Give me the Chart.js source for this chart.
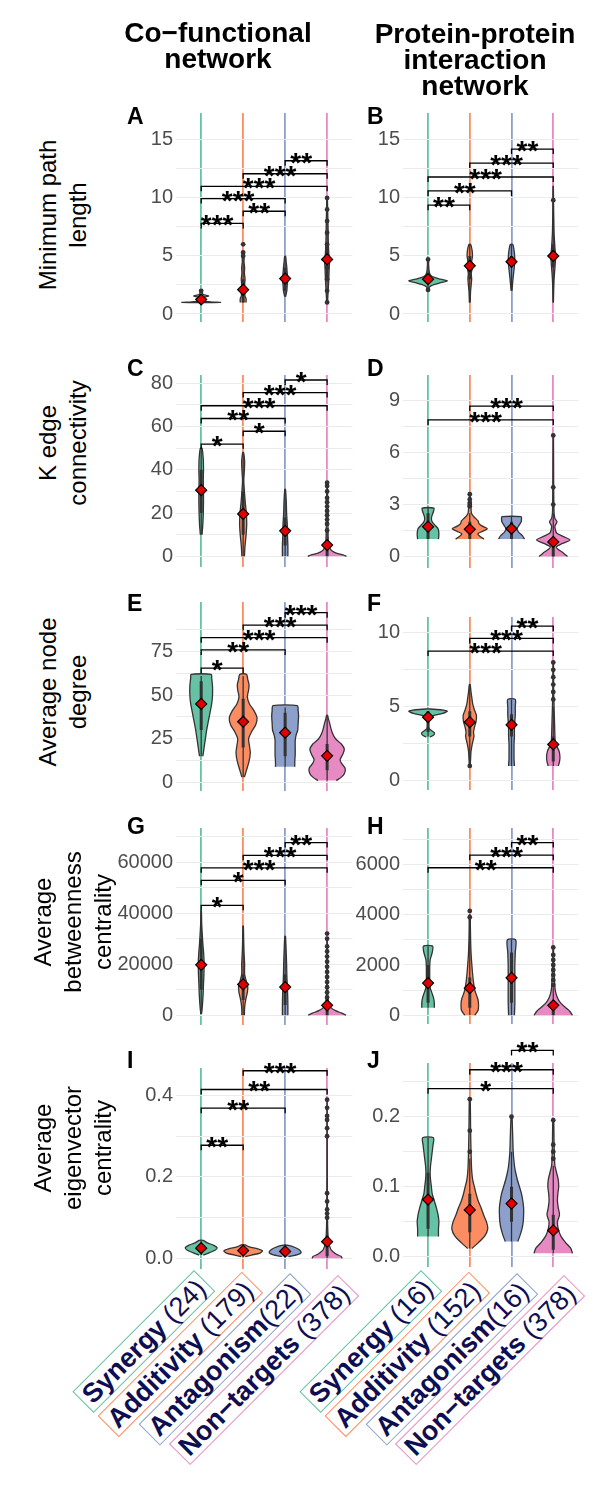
<!DOCTYPE html>
<html lang="en">
<head>
<meta charset="UTF-8">
<script src="https://cdn.jsdelivr.net/npm/chart.js"></script>
<title>Network metrics by interaction type</title>
<style>
  body { margin: 0; background: #fff; font-family: "Liberation Sans", Arial, sans-serif; }
  #page { position: relative; width: 614px; height: 1495px; overflow: hidden; }
  #page canvas { position: absolute; }
  .hdr { position: absolute; width: 260px; font-weight: bold; font-size: 28px; line-height: 26px; text-align: center; color: #000; }
  .tag { position: absolute; font-weight: bold; font-size: 23px; line-height: 23px; color: #000; }
  .ylab { position: absolute; font-size: 24px; line-height: 30px; text-align: center; white-space: nowrap;
          transform: translate(-50%, -50%) rotate(-90deg); color: #000; }
  .xlab { position: absolute; font-size: 27px; line-height: 28px; color: #0e0e52; background: #fff;
          border: 1px solid; padding: 0 4px; white-space: nowrap; transform-origin: 100% 0; transform: rotate(-45deg); }
</style>
</head>
<body>
<div id="page"></div>
<script>
// ---- data ----
const groups = ['Synergy', 'Additivity', 'Antagonism', 'Non\u2212targets'];
const countsCof = [' (24)', ' (179)', '(22)', ' (378)'];
const countsPpi = [' (16)', ' (152)', '(16)', ' (378)'];
const rowTitles = [['Minimum path', 'length'], ['K edge', 'connectivity'], ['Average node', 'degree'],
                   ['Average', 'betweenness', 'centrality'], ['Average', 'eigenvector', 'centrality']];

// violin outlines: [y, half width in category units]
const violinA = [
  [[0.98,0.04],[1.0,0.46],[1.05,0.22],[1.12,0.05],[1.4,0.04],[1.55,0.18],[1.7,0.04],[2.0,0.02]],
  [[1.0,0.07],[1.3,0.07],[1.6,0.04],[2.0,0.05],[2.5,0.035],[3.0,0.045],[3.5,0.03],[4.0,0.035],[4.5,0.02],[5.0,0.025],[5.3,0.01]],
  [[1.5,0.01],[2.0,0.04],[2.5,0.05],[3.0,0.065],[3.5,0.05],[4.0,0.04],[4.5,0.025],[5.0,0.01]],
  [[1.0,0.01],[2.0,0.025],[3.0,0.04],[4.0,0.05],[4.6,0.06],[5.0,0.045],[6.0,0.03],[7.0,0.025],[8.0,0.02],[9.0,0.012],[10.0,0.006]]
];
const violinB = [
  [[2.0,0.02],[2.3,0.03],[2.45,0.08],[2.65,0.25],[2.85,0.46],[3.0,0.3],[3.15,0.15],[3.35,0.06],[3.6,0.03],[4.2,0.015],[4.7,0.01]],
  [[1.0,0.01],[2.0,0.02],[3.0,0.045],[3.5,0.035],[4.0,0.06],[4.5,0.045],[5.0,0.065],[5.5,0.055],[6.0,0.02]],
  [[2.0,0.01],[3.0,0.035],[3.5,0.05],[4.0,0.065],[4.5,0.08],[5.0,0.075],[5.5,0.06],[6.0,0.03]],
  [[1.0,0.004],[2.0,0.01],[3.0,0.02],[4.0,0.04],[4.7,0.055],[5.0,0.06],[5.5,0.045],[6.0,0.035],[7.0,0.02],[8.0,0.014],[9.0,0.009],[10.0,0.006],[11.0,0.002]]
];
const violinC = [
  [[10,0.02],[15,0.04],[20,0.05],[25,0.055],[30,0.055],[35,0.05],[40,0.055],[45,0.05],[50,0.02]],
  [[0,0.03],[5,0.045],[10,0.07],[15,0.085],[20,0.075],[25,0.05],[30,0.03],[35,0.015],[40,0.03],[44,0.035],[48,0.01]],
  [[0,0.065],[5,0.065],[10,0.055],[15,0.05],[20,0.035],[25,0.028],[31,0.008]],
  [[0,0.46],[0.7,0.38],[1.5,0.22],[2.5,0.12],[4,0.06],[6,0.035],[9,0.025],[14,0.02],[20,0.015],[27,0.012],[34,0.005]]
];
const violinD = [
  [[1.0,0.25],[1.3,0.26],[1.6,0.24],[1.8,0.17],[2.0,0.1],[2.2,0.08],[2.4,0.1],[2.6,0.13],[2.8,0.14]],
  [[1.0,0.34],[1.15,0.25],[1.3,0.19],[1.45,0.3],[1.6,0.42],[1.75,0.3],[1.9,0.22],[2.05,0.2],[2.2,0.14],[2.35,0.08],[2.5,0.04],[2.8,0.03],[3.0,0.04],[3.2,0.02],[3.5,0.01]],
  [[1.0,0.31],[1.2,0.26],[1.4,0.17],[1.6,0.13],[1.8,0.18],[2.0,0.23],[2.2,0.24],[2.3,0.23]],
  [[0,0.34],[0.2,0.24],[0.4,0.12],[0.55,0.07],[0.75,0.22],[0.95,0.4],[1.15,0.24],[1.35,0.08],[1.55,0.05],[1.75,0.04],[2.0,0.09],[2.2,0.04],[2.5,0.02],[3,0.015],[4,0.01],[7,0.005]]
];
const violinE = [
  [[15,0.04],[20,0.07],[25,0.1],[30,0.13],[35,0.17],[40,0.21],[45,0.25],[50,0.27],[55,0.27],[60,0.25],[62,0.24]],
  [[3,0.03],[7,0.08],[12,0.14],[17,0.17],[21,0.15],[25,0.13],[29,0.2],[33,0.3],[37,0.33],[41,0.26],[45,0.15],[49,0.1],[53,0.13],[56,0.14],[59,0.11],[62,0.08]],
  [[9,0.23],[12,0.23],[16,0.24],[20,0.24],[24,0.24],[27,0.26],[30,0.3],[34,0.31],[38,0.32],[41,0.31],[44,0.29]],
  [[1,0.22],[3,0.34],[5,0.41],[8,0.43],[11,0.34],[13,0.31],[16,0.37],[19,0.41],[22,0.34],[25,0.2],[28,0.13],[31,0.09],[34,0.06],[36.5,0.03],[38.5,0.01]]
];
const violinF = [
  [[2.95,0.05],[3.1,0.14],[3.25,0.15],[3.4,0.08],[3.55,0.02],[3.9,0.01],[4.2,0.03],[4.4,0.12],[4.55,0.35],[4.7,0.46],[4.8,0.3],[4.85,0.05]],
  [[1,0.01],[1.5,0.02],[2,0.03],[2.5,0.06],[3,0.1],[3.3,0.09],[3.6,0.11],[4,0.15],[4.4,0.16],[4.8,0.11],[5.2,0.07],[5.6,0.05],[6,0.03],[6.5,0.01]],
  [[1,0.07],[1.5,0.06],[2,0.06],[2.5,0.06],[3,0.07],[3.5,0.07],[4,0.08],[4.5,0.09],[5,0.09],[5.5,0.09]],
  [[1,0.12],[1.3,0.15],[1.6,0.16],[2,0.14],[2.3,0.09],[2.6,0.05],[3,0.04],[3.5,0.035],[4,0.03],[5,0.02],[6,0.01],[8,0.005]]
];
const violinG = [
  [[500,0.008],[3000,0.025],[8000,0.045],[12000,0.055],[16000,0.065],[20000,0.07],[24000,0.06],[28000,0.04],[32000,0.025],[36000,0.012],[41000,0.005]],
  [[0,0.03],[3000,0.035],[6000,0.06],[9000,0.1],[11000,0.11],[13000,0.08],[16000,0.035],[20000,0.035],[25000,0.02],[30000,0.012],[35000,0.005]],
  [[0,0.065],[4000,0.065],[8000,0.06],[12000,0.05],[16000,0.04],[20000,0.035],[25000,0.025],[31000,0.008]],
  [[0,0.45],[800,0.35],[1800,0.2],[3000,0.09],[4500,0.04],[7000,0.02],[12000,0.01],[20000,0.008],[30000,0.004]]
];
const violinH = [
  [[300,0.15],[500,0.15],[700,0.13],[900,0.09],[1100,0.05],[1300,0.04],[1600,0.04],[1900,0.04],[2200,0.05],[2500,0.1],[2750,0.11]],
  [[0,0.12],[200,0.2],[400,0.21],[600,0.2],[800,0.16],[1000,0.12],[1300,0.09],[1600,0.07],[2000,0.05],[2500,0.03],[3000,0.02],[3500,0.015],[4000,0.01]],
  [[0,0.07],[500,0.08],[1000,0.08],[1500,0.08],[2000,0.08],[2500,0.09],[3000,0.1]],
  [[0,0.46],[150,0.4],[300,0.3],[500,0.17],[700,0.1],[900,0.06],[1100,0.04],[1400,0.03],[1800,0.02],[2200,0.01],[2700,0.005]]
];
const violinI = [
  [[0.008,0.05],[0.014,0.2],[0.02,0.33],[0.026,0.38],[0.032,0.3],[0.038,0.15],[0.044,0.05]],
  [[0.004,0.05],[0.008,0.2],[0.013,0.4],[0.018,0.46],[0.023,0.35],[0.028,0.15],[0.033,0.04]],
  [[0.004,0.08],[0.009,0.3],[0.014,0.38],[0.02,0.35],[0.026,0.25],[0.032,0.08]],
  [[0,0.36],[0.005,0.33],[0.01,0.22],[0.02,0.1],[0.03,0.06],[0.04,0.04],[0.06,0.02],[0.1,0.01],[0.2,0.005],[0.39,0.003]]
];
const violinJ = [
  [[0.029,0.25],[0.04,0.25],[0.05,0.26],[0.06,0.24],[0.07,0.2],[0.08,0.15],[0.09,0.1],[0.1,0.08],[0.11,0.06],[0.12,0.05],[0.13,0.06],[0.14,0.08],[0.15,0.1],[0.16,0.12],[0.17,0.13]],
  [[0.012,0.05],[0.02,0.2],[0.03,0.36],[0.04,0.43],[0.05,0.4],[0.06,0.33],[0.07,0.27],[0.08,0.2],[0.09,0.15],[0.1,0.11],[0.11,0.07],[0.12,0.05],[0.13,0.04],[0.15,0.03],[0.18,0.02],[0.225,0.01]],
  [[0.022,0.15],[0.03,0.2],[0.04,0.25],[0.05,0.28],[0.06,0.29],[0.07,0.29],[0.08,0.27],[0.09,0.24],[0.1,0.19],[0.11,0.14],[0.12,0.1],[0.13,0.07],[0.15,0.04],[0.17,0.03],[0.2,0.01]],
  [[0.005,0.46],[0.012,0.42],[0.02,0.3],[0.03,0.18],[0.04,0.12],[0.05,0.1],[0.06,0.15],[0.07,0.12],[0.08,0.1],[0.09,0.11],[0.1,0.13],[0.11,0.12],[0.12,0.08],[0.13,0.04],[0.14,0.03],[0.16,0.02],[0.195,0.01]]
];

// boxplots: [lower whisker, q1, q3, upper whisker]
const boxA = [[1,1,1,1.5],[1,1,3,5],[1.5,2,4,5],[1,3,6,10]];
const boxB = [[2.1,2.6,3.2,4.7],[1,3,5,6],[2,4,5,6],[1,4,6,11]];
const boxC = [[10,20,40,50],[0,10,30,48],[0,5,18,31],[0,0,6,12]];
const boxD = [[1,1,2.5,2.8],[1,1,2,2.5],[1,1,2,2.3],[0,0,1,2.5]];
const boxE = [[15,30,58,61],[3,20,48,61],[9,15,40,43],[1,7,22,38]];
const boxF = [[3,3.3,4.7,4.7],[1,3,4.7,6.5],[1,3,4.5,5.5],[1,1.3,3,5]];
const boxG = [[500,10000,30000,41000],[0,6000,16000,35000],[0,4000,16000,31000],[0,0,3000,7000]];
const boxH = [[300,500,2000,2750],[0,300,1500,3800],[0,500,2500,3000],[0,0,500,1100]];
const boxI = [[0.008,0.018,0.032,0.044],[0.004,0.01,0.025,0.032],[0.004,0.01,0.023,0.032],[0,0.005,0.04,0.09]];
const boxJ = [[0.029,0.04,0.12,0.17],[0.012,0.035,0.09,0.14],[0.022,0.05,0.1,0.15],[0.005,0.01,0.06,0.13]];

// outlying points
const outA = [[2],[5,5.3,6],[],[1,2,3,4,5,6,7,8,9,10]];
const outB = [[2.08,4.7],[],[],[9.8]];
const outC = [[],[],[],[12,15,17,19,21,23,25,27,30,32.5,34]];
const outD = [[],[2.9,3.1,3.3,3.6],[],[3,4,7]];
const outE = [[],[],[],[]];
const outF = [[],[1],[],[5.5,6,6.5,7,7.5,8]];
const outG = [[],[],[],[7000,9000,11000,13000,15000,17000,19000,21000,23000,25000,27000,30000,32000]];
const outH = [[],[3900,4150],[],[1200,1400,1600,1800,2000,2200,2400,2700]];
const outI = [[],[],[],[0.1,0.11,0.12,0.14,0.16,0.3,0.32,0.34,0.35,0.37,0.39]];
const outJ = [[],[0.15,0.18,0.225],[0.2],[0.14,0.15,0.16,0.195]];

// group means (red diamonds)
const meanA = [1.25, 2.1, 3.05, 4.7];
const meanB = [3.0, 4.15, 4.5, 5.0];
const meanC = [30.6, 19.6, 11.8, 5.2];
const meanD = [1.72, 1.57, 1.6, 0.84];
const meanE = [45, 34.8, 28.5, 15.2];
const meanF = [4.3, 3.96, 3.78, 2.46];
const meanG = [19750, 12080, 11050, 3900];
const meanH = [1280, 1080, 1490, 395];
const meanI = [0.025, 0.019, 0.017, 0.041];
const meanJ = [0.0817, 0.067, 0.076, 0.0377];

// significance brackets: [group a, group b, y, label]
const sigA = [[1,2,7.8,'***'],[2,3,8.85,'**'],[1,3,9.94,'***'],[1,4,11.0,'***'],[2,4,12.08,'***'],[3,4,13.2,'**']];
const sigB = [[1,2,9.37,'**'],[1,3,10.6,'**'],[1,4,11.8,'***'],[2,4,13.0,'***'],[3,4,14.2,'**']];
const sigC = [[1,2,51.9,'*'],[2,3,57.8,'*'],[1,3,63.7,'**'],[1,4,69.6,'***'],[2,4,75.7,'***'],[3,4,81.5,'*']];
const sigD = [[1,4,7.9,'***'],[2,4,8.7,'***']];
const sigE = [[1,2,65.5,'*'],[1,3,76,'**'],[1,4,83,'***'],[2,4,90.2,'***'],[3,4,97.4,'***']];
const sigF = [[1,4,8.77,'***'],[2,4,9.62,'***'],[3,4,10.45,'**']];
const sigG = [[1,2,43100,'*'],[1,3,52900,'*'],[1,4,57800,'***'],[2,4,62700,'***'],[3,4,67700,'**']];
const sigH = [[1,4,5870,'**'],[2,4,6370,'***'],[3,4,6870,'**']];
const sigI = [[1,2,0.278,'**'],[1,3,0.369,'**'],[1,4,0.415,'**'],[2,4,0.461,'***']];
const sigJ = [[1,4,0.240,'*'],[2,4,0.267,'***'],[3,4,0.2945,'**']];

// y tick labels
const ticksA = [0, 5, 10, 15];
const ticksB = [0, 5, 10, 15];
const ticksC = [0, 20, 40, 60, 80];
const ticksD = [0, 3, 6, 9];
const ticksE = [0, 25, 50, 75];
const ticksF = [0, 5, 10];
const ticksG = [0, 20000, 40000, 60000];
const ticksH = [0, 2000, 4000, 6000];
const ticksI = [0, 0.2, 0.4];
const ticksJ = [0, 0.1, 0.2];

// ---- layout ----
const fills = ['#66C2A5', '#FC8D62', '#8DA0CB', '#E78AC3'];
const AXIS_W = 60, PAD_TOP = 42, PAD_BOT = 14;
const colX = [[176, 359], [403, 585]];
// [column, plot top px, plot bottom px, y min, y max]
const geom = {
  A: [0, 113, 323, -0.686, 17.31],     B: [1, 113, 323, -0.686, 17.31],
  C: [0, 375, 568, -4.92, 83.8],       D: [1, 374.6, 569, -0.672, 10.5],
  E: [0, 601.7, 792, -4.96, 103.5],    F: [1, 616.7, 791, -0.624, 11.07],
  G: [0, 828.3, 1026.5, -3818, 73400], H: [1, 828.3, 1025.5, -348, 7452],
  I: [0, 1068.3, 1270, -0.0262, 0.4678], J: [1, 1063.3, 1268.5, -0.01447, 0.2766]
};
const panelData = {
  A: [violinA, boxA, outA, meanA, sigA, ticksA], B: [violinB, boxB, outB, meanB, sigB, ticksB],
  C: [violinC, boxC, outC, meanC, sigC, ticksC], D: [violinD, boxD, outD, meanD, sigD, ticksD],
  E: [violinE, boxE, outE, meanE, sigE, ticksE], F: [violinF, boxF, outF, meanF, sigF, ticksF],
  G: [violinG, boxG, outG, meanG, sigG, ticksG], H: [violinH, boxH, outH, meanH, sigH, ticksH],
  I: [violinI, boxI, outI, meanI, sigI, ticksI], J: [violinJ, boxJ, outJ, meanJ, sigJ, ticksJ]
};

const page = document.getElementById('page');
function addDiv(cls, html, css) {
  const d = document.createElement('div');
  d.className = cls;
  d.innerHTML = html;
  Object.assign(d.style, css);
  page.appendChild(d);
  return d;
}

// significance brackets + stars
const bracketPlugin = {
  id: 'brackets',
  afterDatasetsDraw(chart) {
    const sig = panelData[chart.canvas.id][4];
    const xs = chart.scales.x, ys = chart.scales.y, ctx = chart.ctx;
    ctx.save();
    ctx.strokeStyle = '#000';
    ctx.fillStyle = '#000';
    ctx.lineWidth = 1.3;
    ctx.font = 'bold 28px "Liberation Sans", Arial, sans-serif';
    ctx.textAlign = 'center';
    ctx.textBaseline = 'alphabetic';
    sig.forEach(([a, b, v, lab]) => {
      const x1 = xs.getPixelForValue(a), x2 = xs.getPixelForValue(b), py = ys.getPixelForValue(v);
      ctx.beginPath();
      ctx.moveTo(x1, py + 5); ctx.lineTo(x1, py); ctx.lineTo(x2, py); ctx.lineTo(x2, py + 5);
      ctx.stroke();
      ctx.fillText(lab, (x1 + x2) / 2 - 5, py + 11);
    });
    ctx.restore();
  }
};

function buildPanel(key) {
  const [col, top, bottom, ymin, ymax] = geom[key];
  const [violins, boxes, outs, means, sig, majors] = panelData[key];
  const cv = document.createElement('canvas');
  cv.id = key;
  const w = AXIS_W + colX[col][1] - colX[col][0];
  const h = bottom - top + PAD_TOP + PAD_BOT;
  cv.width = w; cv.height = Math.round(h);
  cv.style.left = (colX[col][0] - AXIS_W) + 'px';
  cv.style.top = (top - PAD_TOP) + 'px';
  page.appendChild(cv);

  const step = majors[1] - majors[0];
  const grid = [];
  majors.forEach(v => { grid.push(v); if (v + step / 2 < ymax) grid.push(v + step / 2); });
  grid.sort((p, q) => p - q);
  const dec = ymax < 1 ? 1 : 0;

  const ds = [];
  violins.forEach((prof, i) => {
    const x = i + 1;
    const right = prof.map(([y, hw]) => ({ x: x + hw, y }));
    const left = prof.slice().reverse().map(([y, hw]) => ({ x: x - hw, y }));
    ds.push({ data: right.concat(left), showLine: true, fill: 'shape', tension: 0.25,
      backgroundColor: fills[i], borderColor: '#333', borderWidth: 1.3, pointRadius: 0, order: 4 });
  });
  boxes.forEach(([lo, q1, q3, hi], i) => {
    ds.push({ data: [{ x: i + 1, y: lo }, { x: i + 1, y: hi }], showLine: true, borderColor: '#333',
      borderWidth: 1.3, pointRadius: 0, order: 3 });
    ds.push({ data: [{ x: i + 1, y: q1 }, { x: i + 1, y: q3 }], showLine: true, borderColor: '#333',
      borderWidth: 3, borderCapStyle: 'butt', pointRadius: 0, order: 3 });
  });
  ds.push({ data: outs.flatMap((arr, i) => arr.map(y => ({ x: i + 1, y }))), pointRadius: 2.4,
    pointBackgroundColor: '#333', pointBorderWidth: 0, order: 2 });
  ds.push({ data: means.map((y, i) => ({ x: i + 1, y })), pointStyle: 'rectRot', pointRadius: 5.5,
    pointBackgroundColor: '#e00000', pointBorderColor: '#000', pointBorderWidth: 1.2, order: 1 });

  new Chart(cv, {
    type: 'scatter',
    data: { datasets: ds },
    options: {
      responsive: false, animation: false, events: [],
      layout: { padding: { top: PAD_TOP, bottom: PAD_BOT, left: 0, right: 0 } },
      plugins: { legend: { display: false }, tooltip: { enabled: false } },
      scales: {
        x: {
          type: 'linear', min: 0.4, max: 4.6,
          afterBuildTicks: s => { s.ticks = [1, 2, 3, 4].map(v => ({ value: v })); },
          afterFit: s => { s.height = 0; },
          ticks: { display: false },
          border: { display: false },
          grid: { drawTicks: false, lineWidth: 1.8, color: c => fills[c.index] || '#fff' }
        },
        y: {
          min: ymin, max: ymax,
          afterBuildTicks: s => { s.ticks = grid.map(v => ({ value: v })); },
          afterFit: s => { s.width = AXIS_W; },
          border: { display: false },
          grid: { drawTicks: false, color: '#ebebeb', lineWidth: 1.1 },
          ticks: {
            autoSkip: false, padding: 3, color: '#4d4d4d',
            font: { family: '"Liberation Sans", Arial, sans-serif', size: 20 },
            callback: v => majors.includes(v) ? v.toFixed(dec) : ''
          }
        }
      }
    },
    plugins: [bracketPlugin]
  });
}

Object.keys(geom).forEach(buildPanel);

// column headers
addDiv('hdr', 'Co\u2212functional<br>network', { left: '88px', top: '20px' });
addDiv('hdr', 'Protein-protein<br>interaction<br>network', { left: '345px', top: '21px' });

// panel letters
const rowTagTop = [105, 357, 592, 815, 1049];
Object.keys(geom).forEach((k, i) => {
  const col = geom[k][0];
  addDiv('tag', k, { left: (col ? 367 : 127) + 'px', top: rowTagTop[Math.floor(i / 2)] + 'px' });
});

// row titles
const rowTitleY = [215, 443, 692, 922, 1148];
rowTitles.forEach((lines, r) => {
  addDiv('ylab', lines.join('<br>'), { left: (lines.length === 3 ? 73 : 63) + 'px', top: rowTitleY[r] + 'px' });
});

// rotated category labels under each column
const labelShift = [[-8, 0], [-4, 1.5], [1, 3], [5, 5]];
[countsCof, countsPpi].forEach((counts, col) => {
  const [x0, x1] = colX[col];
  const unit = (x1 - x0) / 4.2;
  groups.forEach((g, i) => {
    const cx = x0 + (i + 0.6) * unit + labelShift[i][0];
    addDiv('xlab', '<b>' + g + '</b>' + counts[i], {
      right: (614 - cx) + 'px', top: (1270 + labelShift[i][1]) + 'px', borderColor: fills[i]
    });
  });
});
</script>
</body>
</html>
